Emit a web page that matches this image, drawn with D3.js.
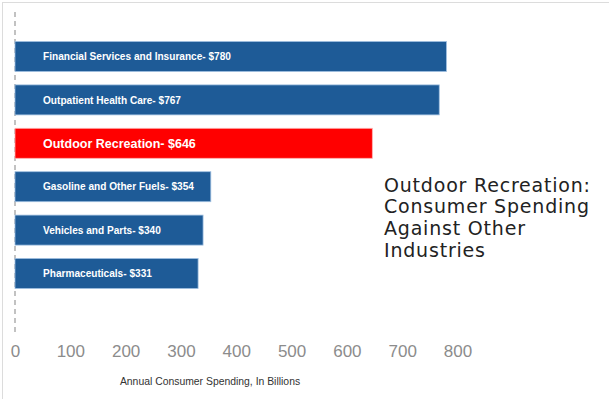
<!DOCTYPE html>
<html>
<head>
<meta charset="utf-8">
<script src="https://cdn.jsdelivr.net/npm/d3@7"></script>
<style>
html,body{margin:0;padding:0;background:#fff;}
svg{display:block;}
</style>
</head>
<body>
<svg id="chart" width="611" height="399"></svg>
<script>
const categories = ["Financial Services and Insurance", "Outpatient Health Care", "Outdoor Recreation", "Gasoline and Other Fuels", "Vehicles and Parts", "Pharmaceuticals"];
const values = [780, 767, 646, 354, 340, 331];
const highlight = "Outdoor Recreation";
const tickValues = [0, 100, 200, 300, 400, 500, 600, 700, 800];
const titleLines = ["Outdoor Recreation:", "Consumer Spending", "Against Other", "Industries"];
const axisTitle = "Annual Consumer Spending, In Billions";

const svg = d3.select("#chart");
const W = 611, H = 399;

// frame
svg.append("line").attr("x1", 2).attr("x2", 609).attr("y1", 2.5).attr("y2", 2.5).attr("stroke", "#dcdcdc").attr("stroke-width", 1);
svg.append("line").attr("x1", 2.5).attr("x2", 2.5).attr("y1", 2).attr("y2", H).attr("stroke", "#dcdcdc").attr("stroke-width", 1);

const x = d3.scaleLinear().domain([0, 800]).range([15, 457.5]);
const y = d3.scaleBand().domain(categories).range([19.8, 310.2]).paddingInner(0.309).paddingOuter(0.5);

// dashed baseline
svg.append("line").attr("x1", x(0)).attr("x2", x(0)).attr("y1", 12).attr("y2", 334)
  .attr("stroke", "#9a9a9a").attr("stroke-width", 1.2).attr("stroke-dasharray", "5,4");

const data = categories.map((c, i) => ({c, v: values[i]}));

svg.selectAll("rect.bar").data(data).enter().append("rect")
  .attr("class", "bar")
  .attr("x", x(0))
  .attr("y", d => y(d.c))
  .attr("width", d => x(d.v) - x(0))
  .attr("height", y.bandwidth())
  .attr("fill", d => d.c === highlight ? "#ff0000" : "#1e5b97")
  .attr("stroke", d => d.c === highlight ? "#ffb0b0" : "#9fbfe0")
  .attr("stroke-width", 0.8);

svg.selectAll("text.blabel").data(data).enter().append("text")
  .attr("class", "blabel")
  .attr("x", 43)
  .attr("y", d => y(d.c) + y.bandwidth() / 2)
  .attr("dy", "0.36em")
  .attr("fill", "#fff")
  .attr("font-family", "Liberation Sans, Arial, sans-serif")
  .attr("font-weight", "bold")
  .attr("font-size", d => d.c === highlight ? 12.5 : 10.1)
  .text(d => d.c + "- $" + d.v);

// x axis (tick labels only)
const axis = d3.axisBottom(x).tickValues(tickValues).tickSize(0).tickPadding(0).tickFormat(d3.format("d"));
const gx = svg.append("g").attr("transform", "translate(0,345)").call(axis);
gx.select(".domain").remove();
gx.selectAll("text")
  .attr("fill", "#8c8c8c")
  .attr("font-family", "Liberation Sans, Arial, sans-serif")
  .attr("font-size", 17)
  .attr("dy", "0.71em")
  .attr("y", 0);

svg.append("text")
  .attr("x", 210).attr("y", 385)
  .attr("text-anchor", "middle")
  .attr("fill", "#333")
  .attr("font-family", "Liberation Sans, Arial, sans-serif")
  .attr("font-size", 10.4)
  .text(axisTitle);

// title
svg.append("g").selectAll("text").data(titleLines).enter().append("text")
  .attr("x", 384)
  .attr("y", (d, i) => 191.7 + i * 21.7)
  .attr("fill", "#222")
  .attr("font-family", "DejaVu Sans, sans-serif")
  .attr("font-size", 19)
  .attr("letter-spacing", 0.8)
  .text(d => d);
</script>
</body>
</html>
